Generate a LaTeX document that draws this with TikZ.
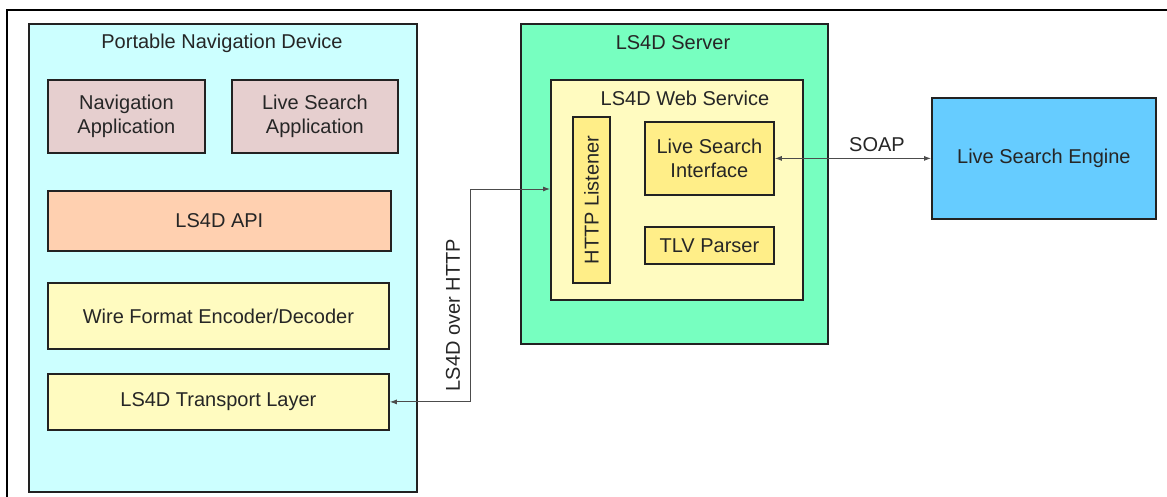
\documentclass[tikz,border=0pt]{standalone}
\usepackage{fontspec}
\setmainfont{Liberation Sans}
\usetikzlibrary{arrows.meta}
\definecolor{pndc}{HTML}{CCFFFF}
\definecolor{appc}{HTML}{E6CFCF}
\definecolor{apic}{HTML}{FFD0B0}
\definecolor{lyel}{HTML}{FFFBC0}
\definecolor{dyel}{HTML}{FFEE88}
\definecolor{srvc}{HTML}{77FFC0}
\definecolor{engc}{HTML}{66CCFF}
\definecolor{bord}{HTML}{222222}
\tikzset{
  box/.style={draw=bord, line width=1.8pt, anchor=north west, inner sep=0pt, align=center,
    font=\fontsize{20}{24}\selectfont},
  lbl/.style={inner sep=0pt, font=\fontsize{20}{24}\selectfont, text=black!85},
  conn/.style={draw=black!70, line width=0.9pt, {Latex[length=7pt,width=5pt]}-{Latex[length=7pt,width=5pt]}}
}
\begin{document}
\begin{tikzpicture}[x=1pt,y=-1pt]
\useasboundingbox (0,0) rectangle (1167,497);
% outer frame (top and left edges)
\draw[line width=2pt, black] (7,497) -- (7,10) -- (1167,10);
% Portable Navigation Device
\node[box, fill=pndc, minimum width=388, minimum height=468] (pnd) at (28,23) {};
\node[lbl] (pndt) at (222,43) {Portable Navigation Device};
\node[box, fill=appc, minimum width=157, minimum height=73, text=black!85] (nav) at (47,79) {Navigation\\Application};
\node[box, fill=appc, minimum width=166, minimum height=73, text=black!85] (lsa) at (231,79) {Live Search\\Application};
\node[box, fill=apic, minimum width=343, minimum height=60, text=black!85] (api) at (47,190) {LS4D API};
\node[box, fill=lyel, minimum width=341, minimum height=66, text=black!85] (wire) at (47,282) {Wire Format Encoder/Decoder};
\node[box, fill=lyel, minimum width=341, minimum height=56, text=black!85] (tl) at (47,373) {LS4D Transport Layer};
% LS4D Server
\node[box, fill=srvc, minimum width=307, minimum height=320] (srv) at (520,23) {};
\node[lbl] (srvt) at (673,43) {LS4D Server};
\node[box, fill=lyel, minimum width=252, minimum height=220] (ws) at (550,79) {};
\node[lbl] (wst) at (685,98) {LS4D Web Service};
\node[box, fill=dyel, minimum width=37, minimum height=166] (http) at (572,116) {};
\node[lbl, rotate=90] (httpt) at (http.center) {HTTP Listener};
\node[box, fill=dyel, minimum width=129, minimum height=73, text=black!85] (lsi) at (644,121) {Live Search\\Interface};
\node[box, fill=dyel, minimum width=129, minimum height=37, text=black!85] (tlv) at (644,226) {TLV Parser};
% Live Search Engine
\node[box, fill=engc, minimum width=224, minimum height=121, text=black!85] (lse) at (931,97) {Live Search Engine};
% connectors
\coordinate (bend) at (470,189);
\draw[conn] (tl.east) -| (bend) -- (ws.west |- bend);
\node[lbl, rotate=90] (httplbl) at (453,315) {LS4D over HTTP};
\draw[conn] (lsi.east) -- (lse.west);
\node[lbl] (soap) at (877,145) {SOAP};
\end{tikzpicture}
\end{document}
